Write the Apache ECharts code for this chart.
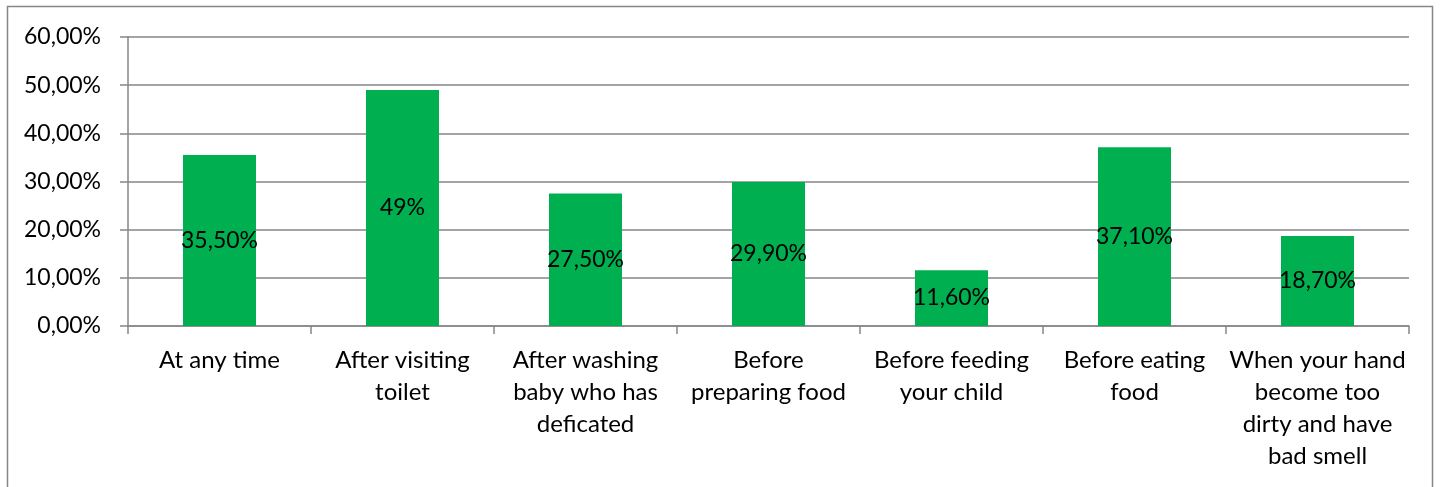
<!DOCTYPE html>
<html>
<head>
<meta charset="utf-8">
<script src="https://cdn.jsdelivr.net/npm/echarts@6/dist/echarts.min.js"></script>
<style>
    html, body { margin: 0; padding: 0; background: #fff; }
    #chart { width: 1440px; height: 487px; }
</style>
</head>
<body>
<div id="chart"></div>
<script>
    // categories (line breaks as in the original)
    const categories = [
        'At any time',
        'After visiting\ntoilet',
        'After washing\nbaby who has\ndeficated',
        'Before\npreparing food',
        'Before feeding\nyour child',
        'Before eating\nfood',
        'When your hand\nbecome too\ndirty and have\nbad smell'
    ];
    const values = [35.5, 49, 27.5, 29.9, 11.6, 37.1, 18.7];
    const valueLabels = ['35,50%', '49%', '27,50%', '29,90%', '11,60%', '37,10%', '18,70%'];

    const font = 'Lato, "Open Sans", sans-serif';
    const grey = '#868686';

    const chart = echarts.init(document.getElementById('chart'));
    chart.setOption({
        animation: false,
        graphic: [{
            type: 'rect',
            shape: { x: 7.5, y: 6.5, width: 1425, height: 520 },
            style: { fill: 'none', stroke: grey, lineWidth: 1.5 },
            silent: true
        }],
        grid: { left: 128, right: 31, top: 37, bottom: 161 },
        xAxis: {
            type: 'category',
            data: categories,
            axisLine: { lineStyle: { color: grey, width: 1.5 } },
            axisTick: { show: true, length: 8, lineStyle: { color: grey, width: 1.5 } },
            axisLabel: {
                interval: 0,
                color: '#000',
                fontFamily: font,
                fontSize: 24,
                lineHeight: 32,
                margin: 18
            }
        },
        yAxis: {
            type: 'value',
            min: 0,
            max: 60,
            interval: 10,
            axisLine: { show: true, lineStyle: { color: grey, width: 1.5 } },
            axisTick: { show: true, length: 8, lineStyle: { color: grey, width: 1.5 } },
            splitLine: { lineStyle: { color: grey, width: 1.5 } },
            axisLabel: {
                color: '#000',
                fontFamily: font,
                fontSize: 23,
                margin: 27,
                formatter: v => v.toFixed(2).replace('.', ',') + '%'
            }
        },
        series: [{
            type: 'bar',
            data: values,
            barWidth: 73,
            itemStyle: { color: '#00B050' },
            label: {
                show: true,
                position: 'inside',
                color: '#000',
                fontFamily: font,
                fontSize: 23,
                formatter: p => valueLabels[p.dataIndex]
            }
        }]
    });
</script>
</body>
</html>
